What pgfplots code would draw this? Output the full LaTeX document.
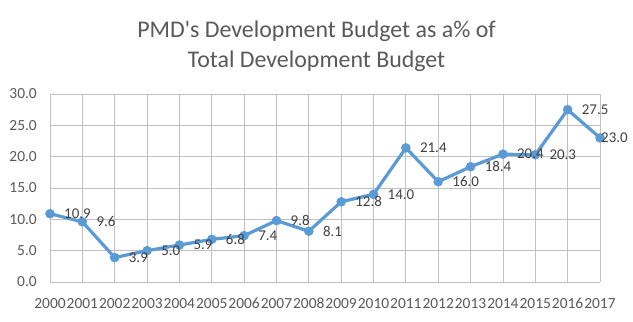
\documentclass[border=0pt]{standalone}
\usepackage{pgfplots}
\pgfplotsset{compat=1.18}
\usepackage{fontspec}
\setmainfont{Carlito}
\definecolor{line}{HTML}{5B9BD5}
\definecolor{grid}{HTML}{D9D9D9}
\definecolor{txt}{HTML}{595959}
\definecolor{lbl}{HTML}{404040}
\begin{document}
\begin{tikzpicture}[x=1bp,y=1bp]
\path (0,0) rectangle (633,321);
\node[text=txt, align=center, font=\fontsize{24}{30}\selectfont] at (316.5,275) {PMD\textquotesingle s Development Budget as a\% of\\Total Development Budget};
\begin{axis}[
  at={(50bp,39bp)}, anchor=south west,
  scale only axis, width=550bp, height=188bp,
  xmin=2000, xmax=2017, ymin=0, ymax=30,
  xtick={2000,...,2017}, ytick={0,5,...,30},
  grid=major, major grid style={grid, line width=0.75bp},
  axis line style={draw=none},
  tick style={draw=none},
  clip=false,
  /pgf/number format/assume math mode=true,
  ticklabel style={font=\fontsize{15.5}{17}\selectfont, text=txt, inner sep=0pt},
  xticklabel style={/pgf/number format/1000 sep={}, anchor=north, yshift=-16bp},
  yticklabel style={/pgf/number format/.cd, fixed, fixed zerofill, precision=1, /tikz/.cd, anchor=east, xshift=-13bp},
]
\addplot[line, line width=3.2bp, mark=*, mark size=4.5bp, mark options={solid, fill=line, draw=line, line width=0.5bp}] coordinates {
(2000,10.9) (2001,9.6) (2002,3.9) (2003,5.0) (2004,5.9) (2005,6.8) (2006,7.4) (2007,9.8) (2008,8.1)
(2009,12.8) (2010,14.0) (2011,21.4) (2012,16.0) (2013,18.4) (2014,20.4) (2015,20.3) (2016,27.5) (2017,23.0)
};
\addplot[draw=none, mark=none,
  nodes near coords={\pgfmathprintnumber[fixed,fixed zerofill,precision=1]{\pgfplotspointmeta}},
  nodes near coords style={anchor=west, inner sep=0pt, xshift=14bp, font=\fontsize{15}{17}\selectfont, text=lbl}] coordinates {
(2000,10.9) (2001,9.6) (2002,3.9) (2003,5.0) (2004,5.9) (2005,6.8) (2006,7.4) (2007,9.8) (2008,8.1)
(2009,12.8) (2010,14.0) (2011,21.4) (2012,16.0) (2013,18.4) (2014,20.4) (2015,20.3) (2016,27.5)
};
\addplot[draw=none, mark=none,
  nodes near coords={\pgfmathprintnumber[fixed,fixed zerofill,precision=1]{\pgfplotspointmeta}},
  nodes near coords style={anchor=west, inner sep=0pt, xshift=1bp, font=\fontsize{15}{17}\selectfont, text=lbl}] coordinates {
(2017,23.0)
};
\end{axis}
\end{tikzpicture}
\end{document}
